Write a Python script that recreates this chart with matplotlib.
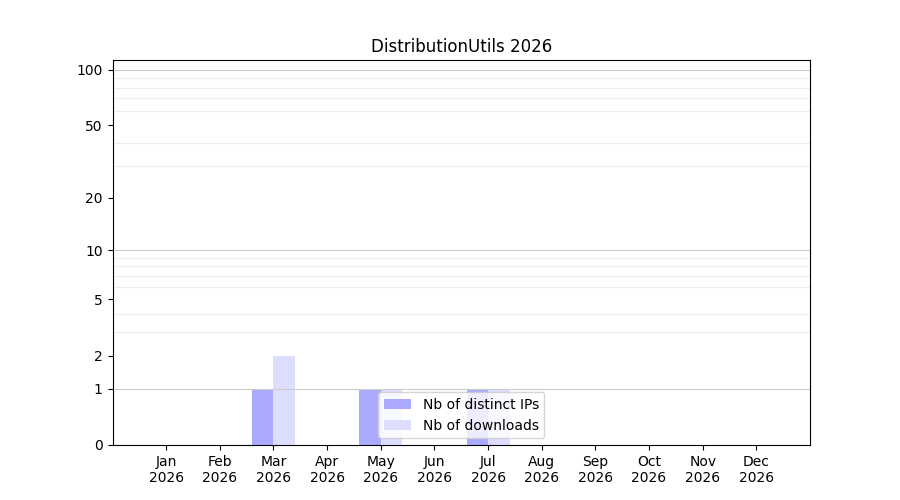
import matplotlib
matplotlib.use("Agg")
import matplotlib.pyplot as plt
import numpy as np
from matplotlib.ticker import FixedLocator

months = ['Jan', 'Feb', 'Mar', 'Apr', 'May', 'Jun', 'Jul', 'Aug', 'Sep', 'Oct', 'Nov', 'Dec']
year = 2026
ips = [0, 0, 1, 0, 1, 0, 1, 0, 0, 0, 0, 0]
downloads = [0, 0, 2, 0, 1, 0, 1, 0, 0, 0, 0, 0]

yticks = [0, 1, 2, 5, 10, 20, 50, 100]
major_grid = [1, 10, 100]
minor_grid = [2, 3, 4, 5, 6, 7, 8, 9, 20, 30, 40, 50, 60, 70, 80, 90]


def fwd(x):
    return np.log10(np.asarray(x, dtype=float) + 1)


def inv(y):
    return 10 ** np.asarray(y, dtype=float) - 1


fig, ax = plt.subplots(figsize=(9, 5), dpi=100)

x = np.arange(len(months))
w = 0.4
ax.bar(x - w / 2, ips, w, color='#aaaaff', label='Nb of distinct IPs')
ax.bar(x + w / 2, downloads, w, color='#ddddff', label='Nb of downloads')

ax.set_yscale('function', functions=(fwd, inv))
ax.set_ylim(0, 113)
ax.set_xlim(-1, 12)

ax.yaxis.set_major_locator(FixedLocator(yticks))
ax.set_yticklabels([str(v) for v in yticks])
ax.yaxis.set_minor_locator(FixedLocator(minor_grid))
ax.tick_params(axis='y', which='minor', length=0)
ax.grid(True, axis='y', which='minor', color='#eeeeee', linewidth=0.8)
for g in major_grid:
    ax.axhline(g, color='#cccccc', linewidth=0.8, zorder=1.5)

ax.set_xticks(x)
ax.set_xticklabels([m + '\n' + str(year) for m in months])

ax.set_title('DistributionUtils ' + str(year))
ax.legend(loc='lower center')

plt.savefig('out.png')
